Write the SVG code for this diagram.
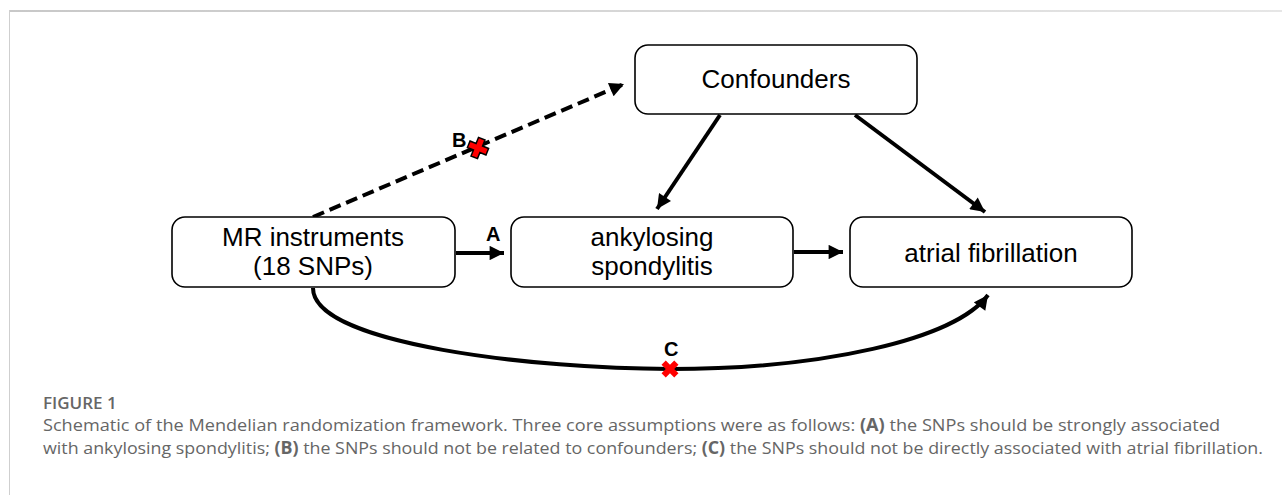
<svg xmlns="http://www.w3.org/2000/svg" width="1282" height="495" viewBox="0 0 1282 495">
<defs>
<style>
.box{fill:#fff;stroke:#000;stroke-width:1.6}
.lbl{font-family:"Liberation Sans",Arial,sans-serif;font-size:26px;fill:#000;text-anchor:middle}
.tag{font-family:"Liberation Sans",Arial,sans-serif;font-size:20px;font-weight:bold;fill:#000}
.edge{fill:none;stroke:#000;stroke-width:4}
.cap{font-family:"Open Sans","Liberation Sans",sans-serif;font-size:17px;fill:#666}
</style>
<marker id="ah" viewBox="0 0 10 10" refX="10" refY="5" markerWidth="4" markerHeight="3.6" orient="auto" markerUnits="strokeWidth">
<path d="M0,0 L10,5 L0,10 z" fill="#000"/>
</marker>
<linearGradient id="tl" x1="0" x2="1" y1="0" y2="0">
<stop offset="0" stop-color="#c8c8c8"/>
<stop offset="1" stop-color="#e6e6e6"/>
</linearGradient>
</defs>
<rect width="1282" height="495" fill="#fff"/>
<rect x="9" y="10" width="1273" height="2" fill="url(#tl)"/>
<rect x="9" y="10" width="1" height="485" fill="#cfcfcf"/>

<g id="connectors">
<path class="edge" d="M313,217 L624,84" stroke-dasharray="12,6" marker-end="url(#ah)"/>
<path class="edge" d="M720,115 L657,209" marker-end="url(#ah)"/>
<path class="edge" d="M855,115 L985,212" marker-end="url(#ah)"/>
<path class="edge" d="M456,253 L504,253" marker-end="url(#ah)"/>
<path class="edge" d="M794,252 L843,252" marker-end="url(#ah)"/>
<path class="edge" d="M313,288 C313,345 540,369 670,369 C820,369 955,340 988,295" marker-end="url(#ah)"/>
</g>

<g id="markB">
<text class="tag" x="452" y="147" font-size="21">B</text>
<g transform="translate(478,148) rotate(-23)">
<path d="M-10,-3.5 L-3.5,-3.5 L-3.5,-10 L3.5,-10 L3.5,-3.5 L10,-3.5 L10,3.5 L3.5,3.5 L3.5,10 L-3.5,10 L-3.5,3.5 L-10,3.5 z" transform="rotate(45)" fill="#f00" stroke="#000" stroke-width="1.5"/>
</g>
</g>
<g id="markA"><text class="tag" x="486" y="241">A</text></g>
<g id="markC">
<text class="tag" x="664" y="356">C</text>
<path d="M-9,-3 L-3,-3 L-3,-9 L3,-9 L3,-3 L9,-3 L9,3 L3,3 L3,9 L-3,9 L-3,3 L-9,3 z" transform="translate(670,369) rotate(45)" fill="#f00"/>
</g>

<g id="confounders">
<rect class="box" x="635" y="45" width="282" height="69" rx="13"/>
<text class="lbl" x="776" y="88">Confounders</text>
</g>
<g id="mr">
<rect class="box" x="172" y="217" width="283" height="70" rx="13"/>
<text class="lbl" x="313" y="246">MR instruments</text>
<text class="lbl" x="313" y="275">(18 SNPs)</text>
</g>
<g id="as">
<rect class="box" x="511" y="217" width="282" height="70" rx="13"/>
<text class="lbl" x="652" y="246">ankylosing</text>
<text class="lbl" x="652" y="275">spondylitis</text>
</g>
<g id="af">
<rect class="box" x="850" y="217" width="282" height="70" rx="13"/>
<text class="lbl" x="991" y="262">atrial fibrillation</text>
</g>

<g id="caption">
<text class="cap" x="43" y="409" font-size="18" font-weight="600">FIGURE 1</text>
<text class="cap" x="43" y="431" textLength="1177" lengthAdjust="spacingAndGlyphs">Schematic of the Mendelian randomization framework. Three core assumptions were as follows: <tspan font-weight="bold">(A)</tspan> the SNPs should be strongly associated</text>
<text class="cap" x="43" y="454" textLength="1220" lengthAdjust="spacingAndGlyphs">with ankylosing spondylitis; <tspan font-weight="bold">(B)</tspan> the SNPs should not be related to confounders; <tspan font-weight="bold">(C)</tspan> the SNPs should not be directly associated with atrial fibrillation.</text>
</g>
</svg>
